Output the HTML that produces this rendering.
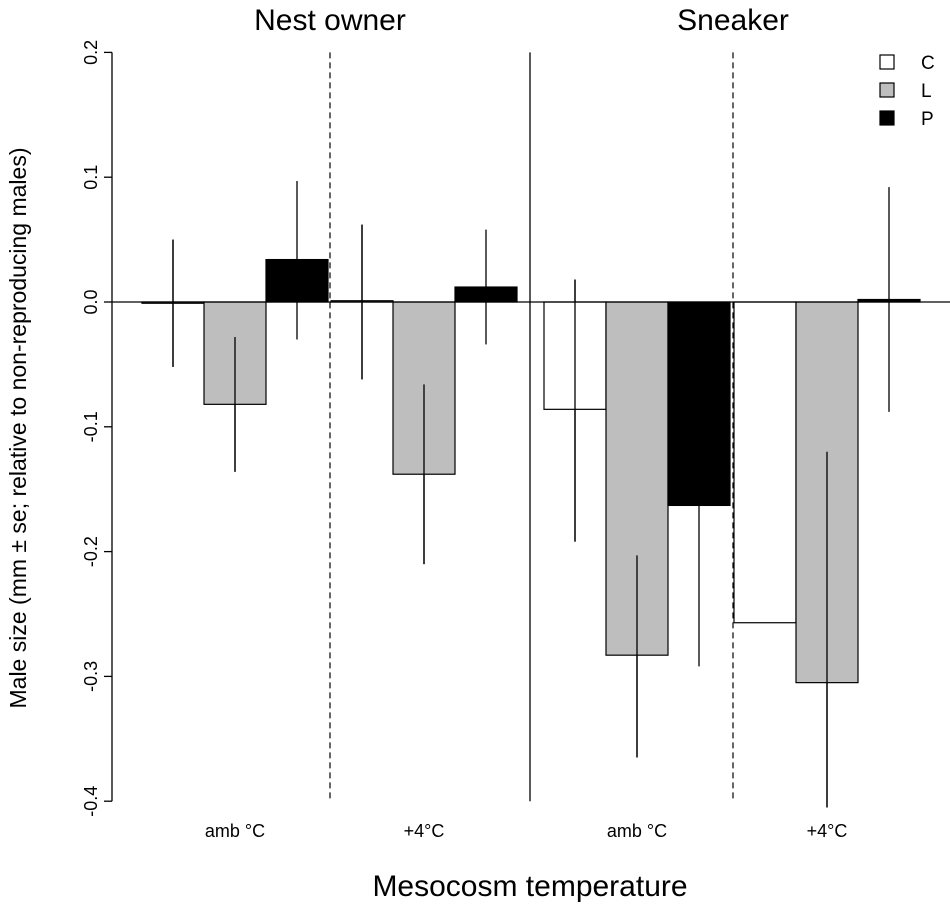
<!DOCTYPE html>
<html><head><meta charset="utf-8"><style>body{margin:0;background:#fff}svg{display:block;font-family:"Liberation Sans",sans-serif}</style></head>
<body>
<svg id="chart" width="950" height="906" viewBox="0 0 950 906" xmlns="http://www.w3.org/2000/svg">
<g id="marks"></g>
</svg>
<script>
const groups = ["Nest owner amb °C","Nest owner +4°C","Sneaker amb °C","Sneaker +4°C"];
const xLabels = ["amb °C","+4°C","amb °C","+4°C"];
const treatments = ["C","L","P"];
const valuesC = [-0.001, 0.001, -0.086, -0.257];
const valuesL = [-0.082, -0.138, -0.283, -0.305];
const valuesP = [0.034, 0.012, -0.163, 0.002];
const upperC = [0.05, 0.062, 0.018, null];
const lowerC = [-0.052, -0.062, -0.192, null];
const upperL = [-0.028, -0.066, -0.203, -0.12];
const lowerL = [-0.136, -0.21, -0.365, -0.405];
const upperP = [0.097, 0.058, -0.034, 0.092];
const lowerP = [-0.03, -0.034, -0.292, -0.088];
const yTicks = [0.2, 0.1, 0.0, -0.1, -0.2, -0.3, -0.4];
const yTickLabels = ["0.2","0.1","0.0","-0.1","-0.2","-0.3","-0.4"];

const NS="http://www.w3.org/2000/svg";
const g=document.getElementById('marks');
const y=v=>302-v*1248;
const groupStart=[142,331,544,734];
const bw=62;
const xBar=(gi,ti)=>groupStart[gi]+ti*bw;
const fills=["#ffffff","#bebebe","#000000"];
function el(tag,attrs,text){const e=document.createElementNS(NS,tag);for(const k in attrs)e.setAttribute(k,attrs[k]);if(text!==undefined)e.textContent=text;g.appendChild(e);return e;}

const vals=[valuesC,valuesL,valuesP], ups=[upperC,upperL,upperP], los=[lowerC,lowerL,lowerP];
for(let gi=0;gi<4;gi++){for(let ti=0;ti<3;ti++){
  const cx=xBar(gi,ti)+bw/2;
  if(ups[ti][gi]!==null){
    const e=el('line',{x1:cx,x2:cx,y1:y(ups[ti][gi]),y2:y(los[ti][gi]),stroke:'#000','stroke-width':1.3});
    
    
  }
}}
for(let gi=0;gi<4;gi++){for(let ti=0;ti<3;ti++){
  const v=vals[ti][gi];
  const r=el('rect',{x:xBar(gi,ti),y:Math.min(y(v),y(0)),width:bw,height:Math.max(Math.abs(y(v)-y(0)),1),fill:fills[ti],stroke:'#000','stroke-width':1.2});
  
  
}}
for(let gi=0;gi<4;gi++){for(let ti=0;ti<2;ti++){
  const cx=xBar(gi,ti)+bw/2;
  if(ups[ti][gi]!==null){
    const e=el('line',{x1:cx,x2:cx,y1:y(ups[ti][gi]),y2:y(los[ti][gi]),stroke:'#000','stroke-width':1.3});
    
    
  }
}}
let e;
e=el('line',{x1:112,x2:950,y1:y(0),y2:y(0),stroke:'#000','stroke-width':1.3});

e=el('line',{x1:330,x2:330,y1:y(0.2),y2:y(-0.4),stroke:'#000','stroke-width':1.2,'stroke-dasharray':'6,4'});

e=el('line',{x1:530,x2:530,y1:y(0.2),y2:y(-0.4),stroke:'#000','stroke-width':1.3});

e=el('line',{x1:733,x2:733,y1:y(0.2),y2:y(-0.4),stroke:'#000','stroke-width':1.2,'stroke-dasharray':'6,4'});

e=el('line',{x1:112,x2:112,y1:y(0.2),y2:y(-0.4),stroke:'#000','stroke-width':1.3});

yTicks.forEach((t,i)=>{
  const l=el('line',{x1:104,x2:112,y1:y(t),y2:y(t),stroke:'#000','stroke-width':1.3});
  
  const tx=el('text',{x:97,y:y(t),'font-size':18,'text-anchor':'middle',transform:`rotate(-90 97 ${y(t)})`},yTickLabels[i]);
  
});
xLabels.forEach((lab,gi)=>{
  const tx=el('text',{x:xBar(gi,1)+bw/2,y:837,'font-size':18,'text-anchor':'middle'},lab);
  
});
e=el('text',{x:330,y:30,'font-size':30,'text-anchor':'middle'},'Nest owner');

e=el('text',{x:733,y:30,'font-size':30,'text-anchor':'middle'},'Sneaker');

e=el('text',{x:530,y:896,'font-size':30,'text-anchor':'middle'},'Mesocosm temperature');

e=el('text',{x:26,y:428,'font-size':23,'text-anchor':'middle',transform:'rotate(-90 26 428)'},'Male size (mm ± se; relative to non-reproducing males)');

treatments.forEach((t,i)=>{
  const ly=62+i*28;
  const r=el('rect',{x:880,y:ly-7,width:14,height:14,fill:fills[i],stroke:'#000','stroke-width':1.2});
  
  const tx=el('text',{x:921,y:ly+7,'font-size':19},t);
  
});
</script>
</body></html>
